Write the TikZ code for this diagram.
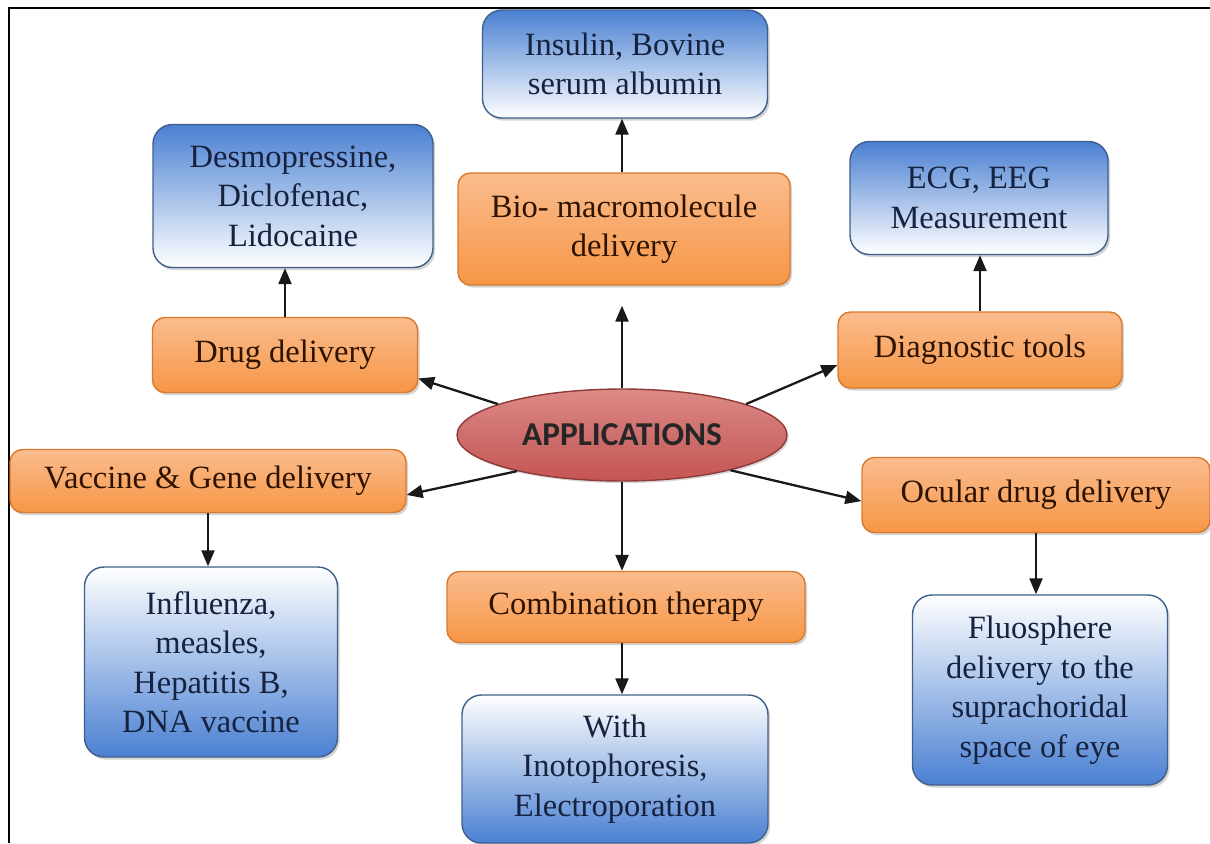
\documentclass[tikz,border=0pt]{standalone}
\usepackage{fontspec}
\setmainfont{Liberation Serif}
\newfontfamily\boxfont{Liberation Serif}
\newfontfamily\appfont{Carlito}
\usepackage{tikz}
\usetikzlibrary{positioning, arrows.meta, shapes.geometric, shadows}
\definecolor{orangetop}{HTML}{FABC8E}
\definecolor{orangemid}{HTML}{F79646}
\definecolor{orangeedge}{HTML}{D9792E}
\definecolor{orangetext}{HTML}{2E1400}
\definecolor{bluedeep}{HTML}{4A80D2}
\definecolor{blueedge}{HTML}{3F5F8C}
\definecolor{bluetext}{HTML}{16223E}
\definecolor{appred}{HTML}{C55553}
\definecolor{applight}{HTML}{DE8A88}
\definecolor{appedge}{HTML}{8E3A38}

\begin{document}
\begin{tikzpicture}[
  x=0.02cm, y=-0.02cm,
  topicbox/.style={draw=orangeedge, line width=0.8pt, rounded corners=7pt, top color=orangetop, bottom color=orangemid, align=center, inner sep=0pt, font=\boxfont\fontsize{18.5}{22}\selectfont, text=orangetext, drop shadow={opacity=0.35, shadow xshift=1.2pt, shadow yshift=-1.5pt}},
  darkbox/.style={draw=blueedge, line width=0.8pt, rounded corners=11pt, top color=bluedeep, bottom color=white, align=center, inner sep=0pt, font=\boxfont\fontsize{18.5}{22.5}\selectfont, text=bluetext, drop shadow={opacity=0.35, shadow xshift=1.2pt, shadow yshift=-1.5pt}},
  lightbox/.style={darkbox, top color=white, bottom color=bluedeep},
  hub/.style={ellipse, draw=appedge, line width=0.8pt, top color=applight, bottom color=appred, middle color=appred!85!white, minimum width=6.6cm, minimum height=1.84cm, font=\appfont\bfseries\fontsize{19}{21}\selectfont, text=black!85, drop shadow={opacity=0.3, shadow xshift=1pt, shadow yshift=-1.2pt}},
  arrow/.style={-{Triangle[length=3.2mm, width=2.6mm]}, line width=1.3pt, black!90}
]
  \useasboundingbox (0,0) rectangle (1210,843);
  \draw[line width=1.2pt] (9,843) -- (9,8) -- (1210,8);

  \node[hub] (app) at (622,435) {APPLICATIONS};

  \node[topicbox, minimum width=6.64cm, minimum height=2.24cm] (bio) at (624,229) {Bio- macromolecule\\delivery};
  \node[darkbox, minimum width=5.7cm, minimum height=2.16cm] (ins) at (625,64) {Insulin, Bovine\\serum albumin};

  \node[topicbox, minimum width=5.3cm, minimum height=1.5cm] (drug) at (285,355) {Drug delivery};
  \node[darkbox, minimum width=5.6cm, minimum height=2.86cm] (desmo) at (293,196) {Desmopressine,\\Diclofenac,\\Lidocaine};

  \node[topicbox, minimum width=5.68cm, minimum height=1.52cm] (diag) at (980,350) {Diagnostic tools};
  \node[darkbox, minimum width=5.16cm, minimum height=2.26cm] (ecg) at (979,198) {ECG, EEG\\Measurement};

  \node[topicbox, minimum width=7.92cm, minimum height=1.26cm] (vac) at (208,481) {Vaccine \& Gene delivery};
  \node[lightbox, minimum width=5.06cm, minimum height=3.8cm] (inf) at (211,662) {Influenza,\\measles,\\Hepatitis B,\\DNA vaccine};

  \node[topicbox, minimum width=6.96cm, minimum height=1.5cm] (ocu) at (1036,495) {Ocular drug delivery};
  \node[lightbox, minimum width=5.1cm, minimum height=3.8cm] (flu) at (1040,690) {Fluosphere\\delivery to the\\suprachoridal\\space of eye};

  \node[topicbox, minimum width=7.16cm, minimum height=1.42cm] (comb) at (626,607) {Combination therapy};
  \node[lightbox, minimum width=6.12cm, minimum height=2.96cm] (with) at (615,769) {With\\Inotophoresis,\\Electroporation};

  % hub to topics
  \draw[arrow, shorten >=0.4cm] (app.north) -- (app.north |- bio.south);
  \draw[arrow] (app.166) -- (drug.-10);
  \draw[arrow] (app.14) -- (diag.186);
  \draw[arrow] (app.199) -- (vac.-4);
  \draw[arrow] (app.342) -- (ocu.182);
  \draw[arrow] (app.south) -- (app.south |- comb.north);

  % topics to examples
  \draw[arrow] (bio.north -| app.north) -- (app.north |- ins.south);
  \draw[arrow] (drug.north) -- (drug.north |- desmo.south);
  \draw[arrow] (diag.north) -- (diag.north |- ecg.south);
  \draw[arrow] (vac.south) -- (vac.south |- inf.north);
  \draw[arrow] (ocu.south) -- (ocu.south |- flu.north);
  \draw[arrow] (comb.south -| app.south) -- (app.south |- with.north);
\end{tikzpicture}
\end{document}
